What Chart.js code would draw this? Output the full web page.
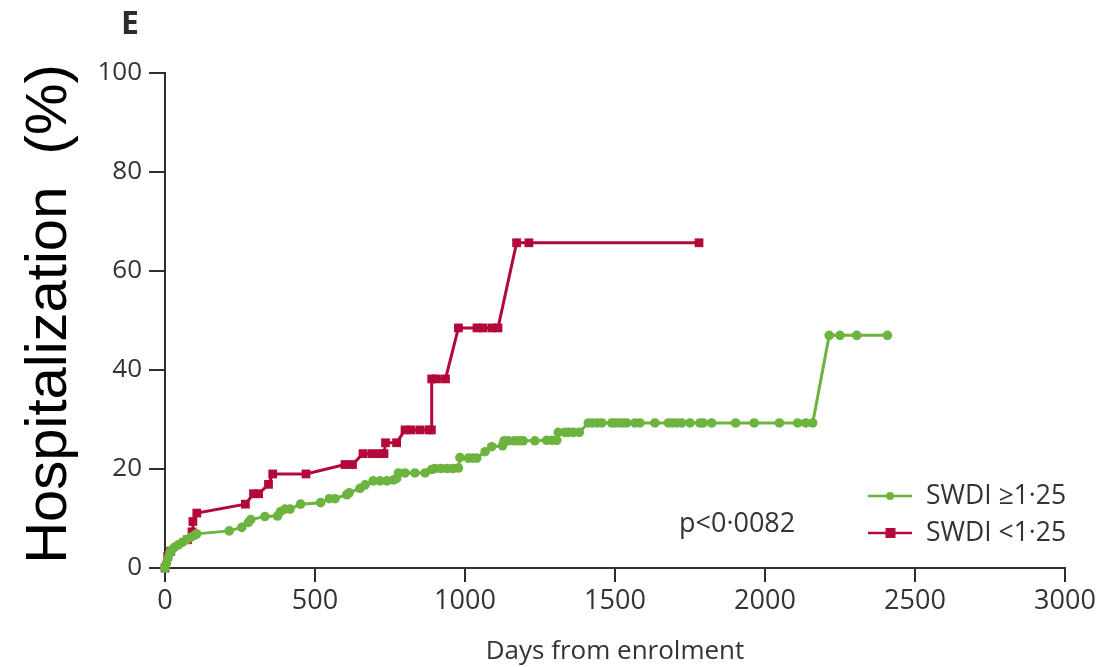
<!DOCTYPE html>
<html><head><meta charset="utf-8">
<script src="https://cdn.jsdelivr.net/npm/chart.js@4.4.1/dist/chart.umd.min.js"></script>
<style>html,body{margin:0;padding:0;background:#fff;overflow:hidden;}</style>
</head><body>
<canvas id="c" width="1112" height="667"></canvas>
<script>
// ---- data ----
const xTicks = [0, 500, 1000, 1500, 2000, 2500, 3000];
const yTicks = [0, 20, 40, 60, 80, 100];
const seriesLabels = ['SWDI \u22651\u00b725', 'SWDI <1\u00b725'];
const pText = 'p<0\u00b70082';
const panelLabel = 'E';
const xTitle = 'Days from enrolment';
const yTitle = 'Hospitalization  (%)';

const greenDays = [0,5,10,16,22,32,45,58,72,85,98,106,
  214,256,278,286,333,375,385,400,417,452,519,548,567,606,614,650,667,694,717,740,762,772,778,800,833,867,889,900,920,940,960,978,
  983,1011,1025,1039,1067,1089,1125,1130,1145,1165,1180,1194,1233,1272,1290,1306,1311,1333,1345,1361,1381,
  1411,1425,1440,1456,1489,1500,1515,1527,1539,1567,1583,1633,1678,1690,1705,1722,1750,1783,1794,1822,1902,1964,2048,2109,2136,2159,
  2214,2250,2306,2408];
const greenPct = [0,1,2,3,3.6,4.2,4.7,5.2,5.7,6.2,6.6,6.9,
  7.5,8.2,9.2,9.8,10.4,10.5,11.4,11.9,11.9,12.9,13.2,14.0,14.0,14.8,15.2,16.1,16.8,17.6,17.6,17.6,17.8,18.1,19.2,19.2,19.2,19.2,19.9,20.1,20.1,20.1,20.1,20.2,
  22.3,22.2,22.2,22.2,23.5,24.5,24.7,25.7,25.7,25.7,25.7,25.7,25.7,25.8,25.8,25.8,27.4,27.4,27.4,27.4,27.4,
  29.3,29.3,29.3,29.3,29.3,29.3,29.3,29.3,29.3,29.3,29.3,29.3,29.3,29.3,29.3,29.3,29.3,29.3,29.3,29.3,29.3,29.3,29.3,29.3,29.3,29.3,
  47.0,47.0,47.0,47.0];

const redDays = [0,9,19,75,90,93,106,268,295,312,345,359,470,600,625,660,690,715,730,735,772,800,820,850,880,888,889,905,935,978,1040,1060,1090,1110,1172,1213,1780];
const redPct  = [0,2.3,3.4,5.7,7.3,9.4,11.1,12.9,15.0,15.0,16.9,19.0,19.0,20.9,20.9,23.1,23.1,23.1,23.1,25.3,25.3,27.9,27.9,27.9,27.9,27.9,38.2,38.2,38.2,48.5,48.5,48.5,48.5,48.5,65.7,65.7,65.7];

// ---- styles ----
const GREEN = '#6db33f';
const RED = '#b4073a';
const AXIS = '#2e2e2e';
const TEXT = '#333333';
const FONT = "'Open Sans', 'Liberation Sans', sans-serif";

const toPts = (xs, ys) => xs.map((x, i) => ({x: x, y: ys[i]}));

const annot = {
  id: 'annot',
  afterDraw(chart) {
    const ctx = chart.ctx;
    ctx.save();
    // panel label
    ctx.fillStyle = '#2b2b2b';
    ctx.font = "bold 32px " + FONT;
    ctx.textAlign = 'center';
    ctx.textBaseline = 'middle';
    ctx.fillText(panelLabel, 130, 25);
    // y title
    ctx.save();
    ctx.translate(50, 314);
    ctx.rotate(-Math.PI / 2);
    ctx.fillStyle = '#000';
    ctx.font = "58px 'Liberation Sans', Arial, sans-serif";
    ctx.textAlign = 'center';
    ctx.textBaseline = 'middle';
    ctx.fillText(yTitle, 0, 0);
    ctx.restore();
    // p value
    ctx.fillStyle = TEXT;
    ctx.font = "27px " + FONT;
    ctx.textAlign = 'left';
    ctx.textBaseline = 'middle';
    ctx.fillText(pText, 679, 524);
    // legend
    const rows = [496, 533];
    chart.data.datasets.forEach((ds, i) => {
      const y = rows[i];
      ctx.strokeStyle = ds.borderColor;
      ctx.lineWidth = 2.5;
      ctx.beginPath();
      ctx.moveTo(868, y);
      ctx.lineTo(912, y);
      ctx.stroke();
      ctx.fillStyle = ds.borderColor;
      if (ds.pointStyle === 'rect') {
        ctx.fillRect(885.5, y - 5, 10, 10);
      } else {
        ctx.beginPath();
        ctx.arc(890, y, 4, 0, Math.PI * 2);
        ctx.fill();
      }
      ctx.fillStyle = TEXT;
      ctx.font = "26.5px " + FONT;
      ctx.textAlign = 'left';
      ctx.textBaseline = 'middle';
      ctx.fillText(ds.label, 926, y);
    });
    ctx.restore();
  }
};

new Chart(document.getElementById('c'), {
  type: 'line',
  data: {
    datasets: [
      {label: seriesLabels[0], data: toPts(greenDays, greenPct), borderColor: GREEN, backgroundColor: GREEN,
       borderWidth: 3, pointStyle: 'circle', pointRadius: 4.8, pointBorderWidth: 0, tension: 0, clip: false},
      {label: seriesLabels[1], data: toPts(redDays, redPct), borderColor: RED, backgroundColor: RED,
       borderWidth: 3, pointStyle: 'rect', pointRadius: 6.2, pointBorderWidth: 0, tension: 0, clip: false}
    ]
  },
  options: {
    responsive: false,
    animation: false,
    devicePixelRatio: 1,
    layout: {padding: {left: 0, right: 47, top: 73, bottom: 0}},
    plugins: {legend: {display: false}, tooltip: {enabled: false}},
    scales: {
      x: {
        type: 'linear', min: 0, max: 3000,
        afterBuildTicks: s => { s.ticks = xTicks.map(v => ({value: v})); },
        afterFit: s => { s.height = 99; },
        border: {display: true, color: AXIS, width: 2},
        grid: {drawOnChartArea: false, drawTicks: true, tickLength: 14, color: AXIS, lineWidth: 2},
        ticks: {color: TEXT, font: {family: FONT, size: 27}, padding: 3, maxRotation: 0, callback: v => String(v)},
        title: {display: true, text: xTitle, color: TEXT, font: {family: FONT, size: 26}, padding: {top: 0, bottom: 0}}
      },
      y: {
        type: 'linear', min: 0, max: 100,
        afterBuildTicks: s => { s.ticks = yTicks.map(v => ({value: v})); },
        afterFit: s => { s.width = 165; },
        border: {display: true, color: AXIS, width: 2},
        grid: {drawOnChartArea: false, drawTicks: true, tickLength: 16, color: AXIS, lineWidth: 2},
        ticks: {color: TEXT, font: {family: FONT, size: 26}, padding: 7, callback: v => String(v)}
      }
    }
  },
  plugins: [annot]
});
</script>
</body></html>
